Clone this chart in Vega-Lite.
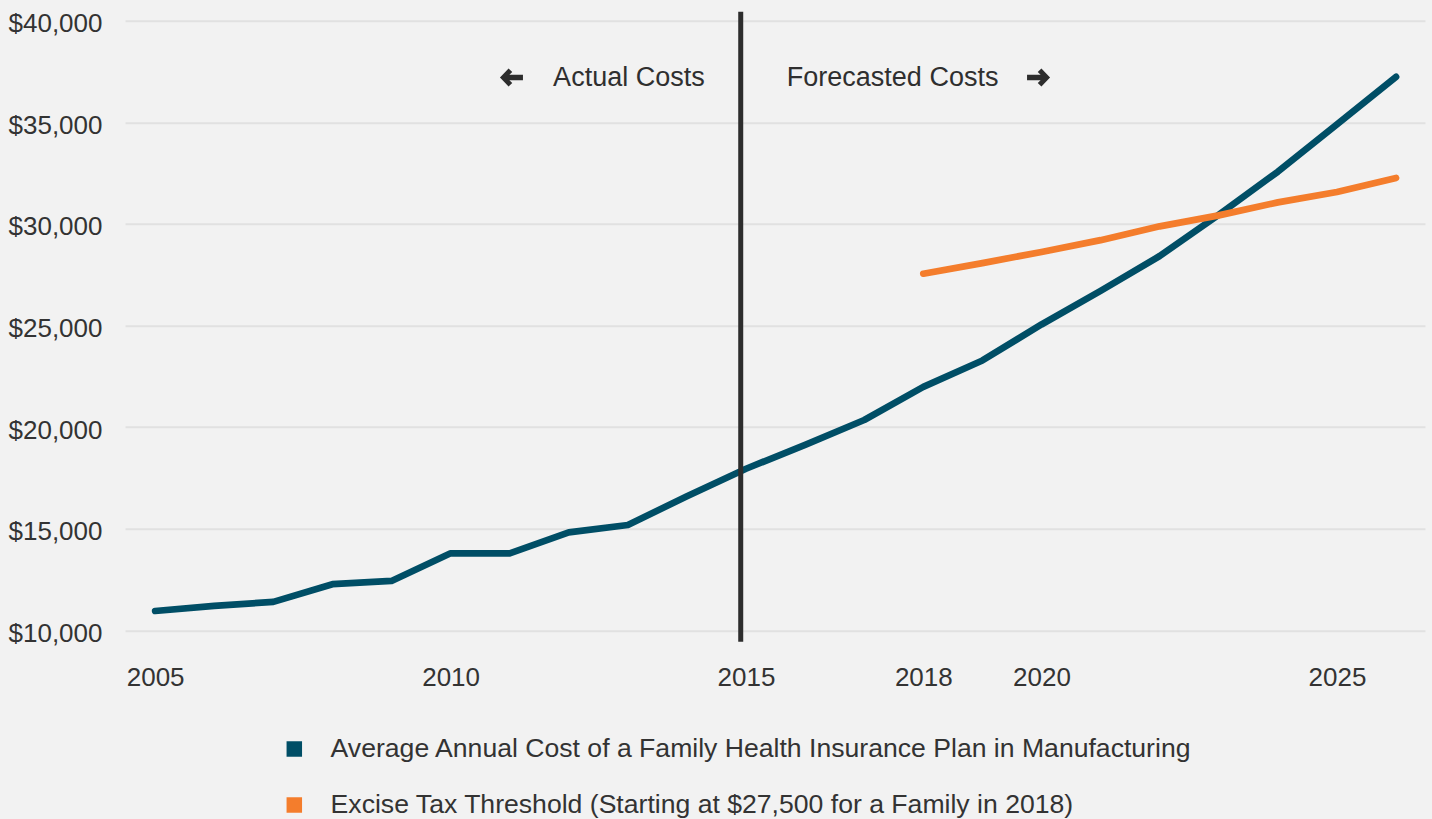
{
  "$schema": "https://vega.github.io/schema/vega-lite/v6.json",
  "width": 1300,
  "height": 609.6,
  "autosize": {"type": "none"},
  "padding": {"left": 125, "top": 20.7, "right": 7, "bottom": 188.7},
  "background": "#f2f2f2",
  "config": {
    "view": {"stroke": null},
    "font": "Liberation Sans"
  },
  "datasets": {
    "costs": [
      {"year": 2005, "value": 10950, "series": "Average Annual Cost of a Family Health Insurance Plan in Manufacturing"},
      {"year": 2006, "value": 11200, "series": "Average Annual Cost of a Family Health Insurance Plan in Manufacturing"},
      {"year": 2007, "value": 11400, "series": "Average Annual Cost of a Family Health Insurance Plan in Manufacturing"},
      {"year": 2008, "value": 12270, "series": "Average Annual Cost of a Family Health Insurance Plan in Manufacturing"},
      {"year": 2009, "value": 12430, "series": "Average Annual Cost of a Family Health Insurance Plan in Manufacturing"},
      {"year": 2010, "value": 13790, "series": "Average Annual Cost of a Family Health Insurance Plan in Manufacturing"},
      {"year": 2011, "value": 13790, "series": "Average Annual Cost of a Family Health Insurance Plan in Manufacturing"},
      {"year": 2012, "value": 14820, "series": "Average Annual Cost of a Family Health Insurance Plan in Manufacturing"},
      {"year": 2013, "value": 15180, "series": "Average Annual Cost of a Family Health Insurance Plan in Manufacturing"},
      {"year": 2014, "value": 16600, "series": "Average Annual Cost of a Family Health Insurance Plan in Manufacturing"},
      {"year": 2015, "value": 17950, "series": "Average Annual Cost of a Family Health Insurance Plan in Manufacturing"},
      {"year": 2016, "value": 19130, "series": "Average Annual Cost of a Family Health Insurance Plan in Manufacturing"},
      {"year": 2017, "value": 20350, "series": "Average Annual Cost of a Family Health Insurance Plan in Manufacturing"},
      {"year": 2018, "value": 21980, "series": "Average Annual Cost of a Family Health Insurance Plan in Manufacturing"},
      {"year": 2019, "value": 23280, "series": "Average Annual Cost of a Family Health Insurance Plan in Manufacturing"},
      {"year": 2020, "value": 25050, "series": "Average Annual Cost of a Family Health Insurance Plan in Manufacturing"},
      {"year": 2021, "value": 26700, "series": "Average Annual Cost of a Family Health Insurance Plan in Manufacturing"},
      {"year": 2022, "value": 28420, "series": "Average Annual Cost of a Family Health Insurance Plan in Manufacturing"},
      {"year": 2023, "value": 30450, "series": "Average Annual Cost of a Family Health Insurance Plan in Manufacturing"},
      {"year": 2024, "value": 32570, "series": "Average Annual Cost of a Family Health Insurance Plan in Manufacturing"},
      {"year": 2025, "value": 34900, "series": "Average Annual Cost of a Family Health Insurance Plan in Manufacturing"},
      {"year": 2026, "value": 37240, "series": "Average Annual Cost of a Family Health Insurance Plan in Manufacturing"},
      {"year": 2018, "value": 27550, "series": "Excise Tax Threshold (Starting at $27,500 for a Family in 2018)"},
      {"year": 2019, "value": 28070, "series": "Excise Tax Threshold (Starting at $27,500 for a Family in 2018)"},
      {"year": 2020, "value": 28620, "series": "Excise Tax Threshold (Starting at $27,500 for a Family in 2018)"},
      {"year": 2021, "value": 29200, "series": "Excise Tax Threshold (Starting at $27,500 for a Family in 2018)"},
      {"year": 2022, "value": 29880, "series": "Excise Tax Threshold (Starting at $27,500 for a Family in 2018)"},
      {"year": 2023, "value": 30420, "series": "Excise Tax Threshold (Starting at $27,500 for a Family in 2018)"},
      {"year": 2024, "value": 31060, "series": "Excise Tax Threshold (Starting at $27,500 for a Family in 2018)"},
      {"year": 2025, "value": 31570, "series": "Excise Tax Threshold (Starting at $27,500 for a Family in 2018)"},
      {"year": 2026, "value": 32260, "series": "Excise Tax Threshold (Starting at $27,500 for a Family in 2018)"}
    ],
    "divider": [
      {"year": 2014.91, "low": 9440, "high": 40440}
    ],
    "notes": [
      {"label": "Actual Costs", "year": 2014.3, "value": 36790, "side": "actual"},
      {"label": "Forecasted Costs", "year": 2015.69, "value": 36790, "side": "forecast"}
    ],
    "arrows": [
      {"year": 2011.03, "value": 37205, "dir": "left"},
      {"year": 2019.95, "value": 37205, "dir": "right"}
    ]
  },
  "layer": [
    {
      "data": {"name": "costs"},
      "mark": {"type": "line", "strokeWidth": 6.7, "strokeCap": "round", "strokeJoin": "round"},
      "encoding": {
        "x": {
          "field": "year", "type": "quantitative", "title": null,
          "scale": {"domain": [2004.49, 2026.49], "nice": false, "zero": false},
          "axis": {
            "values": [2005, 2010, 2015, 2018, 2020, 2025], "format": "d",
            "grid": false, "domain": false, "ticks": false, "labelPadding": 34,
            "labelFontSize": 26, "labelColor": "#333333", "labelFont": "Liberation Sans"
          }
        },
        "y": {
          "field": "value", "type": "quantitative", "title": null,
          "scale": {"domain": [10000, 40000], "nice": false, "zero": false},
          "axis": {
            "values": [10000, 15000, 20000, 25000, 30000, 35000, 40000], "format": "$,.0f",
            "grid": true, "gridColor": "#e1e1e1", "gridWidth": 2,
            "domain": false, "ticks": false, "labelPadding": 23, "labelOffset": 3,
            "labelFontSize": 26, "labelColor": "#333333", "labelFont": "Liberation Sans"
          }
        },
        "color": {
          "field": "series", "type": "nominal",
          "scale": {
            "domain": ["Average Annual Cost of a Family Health Insurance Plan in Manufacturing", "Excise Tax Threshold (Starting at $27,500 for a Family in 2018)"],
            "range": ["#004e66", "#f47d2c"]
          },
          "legend": {
            "title": null, "orient": "none", "legendX": 156, "legendY": 715,
            "direction": "vertical", "symbolType": "square", "symbolSize": 240,
            "symbolStrokeWidth": 0, "labelFontSize": 26.6, "labelColor": "#333333",
            "labelFont": "Liberation Sans", "labelOffset": 23, "rowPadding": 29,
            "padding": 0, "labelLimit": 1200,
            "encode": {"symbols": {"update": {"fill": {"scale": "color", "field": "value"}, "opacity": {"value": 1}}}}
          }
        }
      }
    },
    {
      "data": {"name": "divider"},
      "mark": {"type": "rule", "strokeWidth": 5, "color": "#2d2d2d"},
      "encoding": {
        "x": {"field": "year", "type": "quantitative", "title": null},
        "y": {"field": "low", "type": "quantitative", "title": null},
        "y2": {"field": "high"}
      }
    },
    {
      "data": {"name": "notes"},
      "transform": [{"filter": "datum.side == 'actual'"}],
      "mark": {"type": "text", "align": "right", "baseline": "alphabetic", "fontSize": 27, "color": "#2f2f2f", "font": "Liberation Sans"},
      "encoding": {
        "x": {"field": "year", "type": "quantitative", "title": null},
        "y": {"field": "value", "type": "quantitative", "title": null},
        "text": {"field": "label"}
      }
    },
    {
      "data": {"name": "notes"},
      "transform": [{"filter": "datum.side == 'forecast'"}],
      "mark": {"type": "text", "align": "left", "baseline": "alphabetic", "fontSize": 27, "color": "#2f2f2f", "font": "Liberation Sans"},
      "encoding": {
        "x": {"field": "year", "type": "quantitative", "title": null},
        "y": {"field": "value", "type": "quantitative", "title": null},
        "text": {"field": "label"}
      }
    },
    {
      "data": {"name": "arrows"},
      "transform": [{"filter": "datum.dir == 'left'"}],
      "mark": {"type": "point", "filled": true, "opacity": 1, "size": 529, "color": "#2d2d2d",
        "shape": "M-1,0L-0.25,-0.78L0.07,-0.48L-0.18,-0.24L1,-0.24L1,0.24L-0.18,0.24L0.07,0.48L-0.25,0.78Z"},
      "encoding": {
        "x": {"field": "year", "type": "quantitative", "title": null},
        "y": {"field": "value", "type": "quantitative", "title": null}
      }
    },
    {
      "data": {"name": "arrows"},
      "transform": [{"filter": "datum.dir == 'right'"}],
      "mark": {"type": "point", "filled": true, "opacity": 1, "size": 529, "color": "#2d2d2d",
        "shape": "M1,0L0.25,-0.78L-0.07,-0.48L0.18,-0.24L-1,-0.24L-1,0.24L0.18,0.24L-0.07,0.48L0.25,0.78Z"},
      "encoding": {
        "x": {"field": "year", "type": "quantitative", "title": null},
        "y": {"field": "value", "type": "quantitative", "title": null}
      }
    }
  ]
}
